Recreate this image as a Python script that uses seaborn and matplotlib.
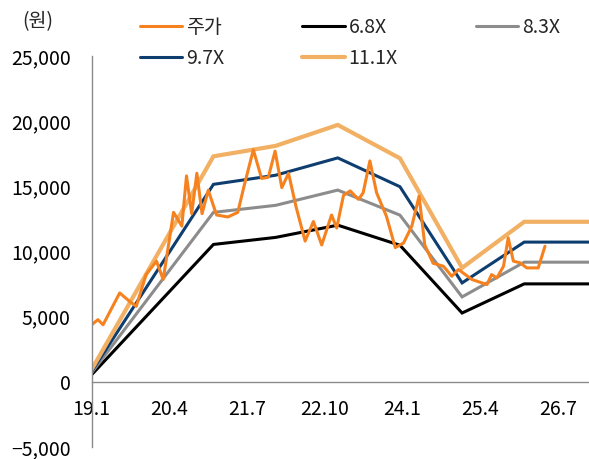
import seaborn as sns
import pandas as pd
import matplotlib.pyplot as plt
from matplotlib.ticker import FuncFormatter

sns.set_style("white")
plt.rcParams['font.family'] = ['Noto Sans CJK KR', 'DejaVu Sans']

# x = months since 2019.01
tick_pos = [0, 15, 30, 45, 60, 75, 90]
tick_labels = ["19.1", "20.4", "21.7", "22.10", "24.1", "25.4", "26.7"]

band_x = [0, 23.5, 35.5, 47.5, 59.5, 71.5, 83.5, 96]
band_68 = [550, 10540, 11080, 12020, 10480, 5280, 7515, 7515]
band_83 = [700, 13000, 13540, 14710, 12790, 6515, 9180, 9180]
band_97 = [800, 15150, 15850, 17180, 14970, 7590, 10720, 10720]
band_111 = [950, 17300, 18100, 19710, 17150, 8740, 12280, 12280]

stock_x = [0, 1.2, 2.2, 5.4, 7.3, 8.6, 10.5, 12.5, 13.8, 15.8, 17.4, 18.3, 19.3, 20.3,
           21.3, 22.5, 24.1, 26.3, 28.2, 29.4, 31.2, 32.8, 34.1, 35.4, 36.7, 38.0, 39.4,
           41.2, 42.8, 44.4, 46.3, 47.3, 48.6, 49.9, 51.5, 52.4, 53.7, 55.0, 56.9, 58.6,
           60.2, 61.8, 63.2, 64.3, 65.9, 67.9, 69.5, 70.8, 73.4, 76.3, 77.2, 78.2, 79.5,
           80.4, 81.4, 82.7, 84.0, 86.2, 87.5]
stock_y = [4380, 4770, 4380, 6820, 6180, 5790, 8230, 9260, 7850, 13000, 11950, 15800, 12900,
           16000, 12900, 14700, 12800, 12650, 13000, 15000, 17800, 15600, 15700, 17700, 14900,
           16000, 13500, 10800, 12300, 10500, 12800, 11800, 14300, 14650, 14000, 14500, 16950,
           14500, 12700, 10300, 10650, 11950, 14250, 10500, 9100, 8870, 8100, 8620, 7850, 7460,
           8230, 7970, 8870, 11050, 9260, 9130, 8740, 8740, 10400]

bands = pd.DataFrame({"x": band_x, "6.8X": band_68, "8.3X": band_83,
                      "9.7X": band_97, "11.1X": band_111})
stock = pd.DataFrame({"x": stock_x, "주가": stock_y})

fig = plt.figure(figsize=(5.89, 4.59), dpi=100)
ax = fig.add_axes([0.1557, 0.0261, 0.8443, 0.852])

styles = {"6.8X": ("#000000", 2.2), "8.3X": ("#8c8c8c", 2.2),
          "9.7X": ("#0e3d70", 2.2), "11.1X": ("#f2b064", 3.0)}
lines = {}
for name, (col, lw) in styles.items():
    sns.lineplot(data=bands, x="x", y=name, color=col, lw=lw, ax=ax,
                 solid_joinstyle="miter")
    lines[name] = ax.lines[-1]
sns.lineplot(data=stock, x="x", y="주가", color="#f5821f", lw=2.2, ax=ax)
lines["주가"] = ax.lines[-1]

ax.set_xlim(0, 96)
ax.set_ylim(-5000, 25000)
ax.set_yticks(range(-5000, 25001, 5000))
ax.yaxis.set_major_formatter(FuncFormatter(lambda v, p: f"{v:,.0f}".replace("-", "−")))
ax.set_xticks(tick_pos)
ax.set_xticklabels(tick_labels)
ax.set_xlabel("")
ax.set_ylabel("")

for s in ["top", "right"]:
    ax.spines[s].set_visible(False)
ax.spines["bottom"].set_position(("data", 0))
for s in ["left", "bottom"]:
    ax.spines[s].set_color("#8a8a8a")
    ax.spines[s].set_linewidth(1.0)
ax.tick_params(axis="both", direction="in", length=4, width=1, color="#8a8a8a",
               labelsize=14, labelcolor="#000000")
ax.tick_params(axis="x", pad=12)
ax.tick_params(axis="y", pad=15)

order = ["주가", "9.7X", "6.8X", "11.1X", "8.3X"]
fig.legend([lines[k] for k in order], order, loc="upper left",
           bbox_to_anchor=(139.5 / 589, 1 - 17 / 459), ncol=3, frameon=False,
           fontsize=14, handlelength=2.2, handletextpad=0.2, columnspacing=4.0,
           labelspacing=0.5, borderpad=0, borderaxespad=0)

fig.text(38 / 589, 1 - 22 / 459, "(원)", fontsize=14, ha="center", va="center")

fig.savefig("out.png", dpi=100)
